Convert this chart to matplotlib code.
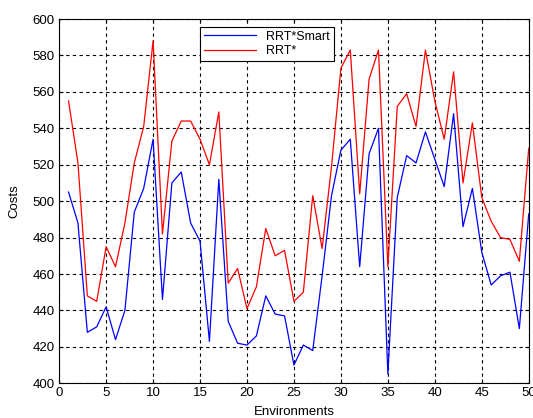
import numpy as np
import matplotlib
matplotlib.use("Agg")
import matplotlib.pyplot as plt

plt.rcParams['font.family'] = ['Liberation Sans', 'DejaVu Sans']

# ==================== 数据 ====================
envs = list(range(1, 51))
rrt_smart = [505, 488, 428, 431, 442, 424, 440, 494, 507, 534,
             446, 510, 516, 488, 478, 423, 512, 434, 422, 421,
             426, 448, 438, 437, 410, 421, 418, 459, 503, 528,
             534, 464, 526, 540, 405, 502, 525, 521, 538, 523,
             508, 548, 486, 507, 472, 454, 459, 461, 430, 493]
rrt_star = [555, 521, 448, 445, 475, 464, 488, 521, 541, 588,
            482, 533, 544, 544, 534, 520, 549, 455, 463, 441,
            453, 485, 470, 473, 445, 450, 503, 474, 519, 573,
            583, 504, 567, 583, 464, 552, 559, 541, 583, 555,
            534, 571, 510, 543, 502, 489, 480, 479, 467, 529]

# ==================== 画图 ====================
fig = plt.figure(figsize=(5.33, 4.18), dpi=100)
ax = fig.add_axes([0.111, 0.083, 0.881, 0.8715])

ax.plot(envs, rrt_smart, color='blue', lw=0.9, label='RRT*Smart')
ax.plot(envs, rrt_star, color='red', lw=0.9, label='RRT*')

ax.set_xlim(0, 50)
ax.set_ylim(400, 600)
ax.set_xticks(range(0, 51, 5))
ax.set_yticks(range(400, 601, 20))
ax.grid(True, color='black', linestyle=(0, (3, 3)), linewidth=0.8)
ax.tick_params(direction='in', top=True, right=True, labelsize=9.5, length=3, pad=3)
for s in ax.spines.values():
    s.set_linewidth(0.8)

ax.set_xlabel('Environments', fontsize=9.5, labelpad=5)
ax.set_ylabel('Costs', fontsize=9.5, labelpad=9)

leg = ax.legend(loc='upper left', bbox_to_anchor=(0.30, 0.978), fontsize=9,
                fancybox=False, framealpha=1, edgecolor='black',
                borderpad=0.3, handlelength=4.2, labelspacing=0.2, borderaxespad=0)
leg.get_frame().set_linewidth(0.8)

fig.savefig('out.png', dpi=100)
